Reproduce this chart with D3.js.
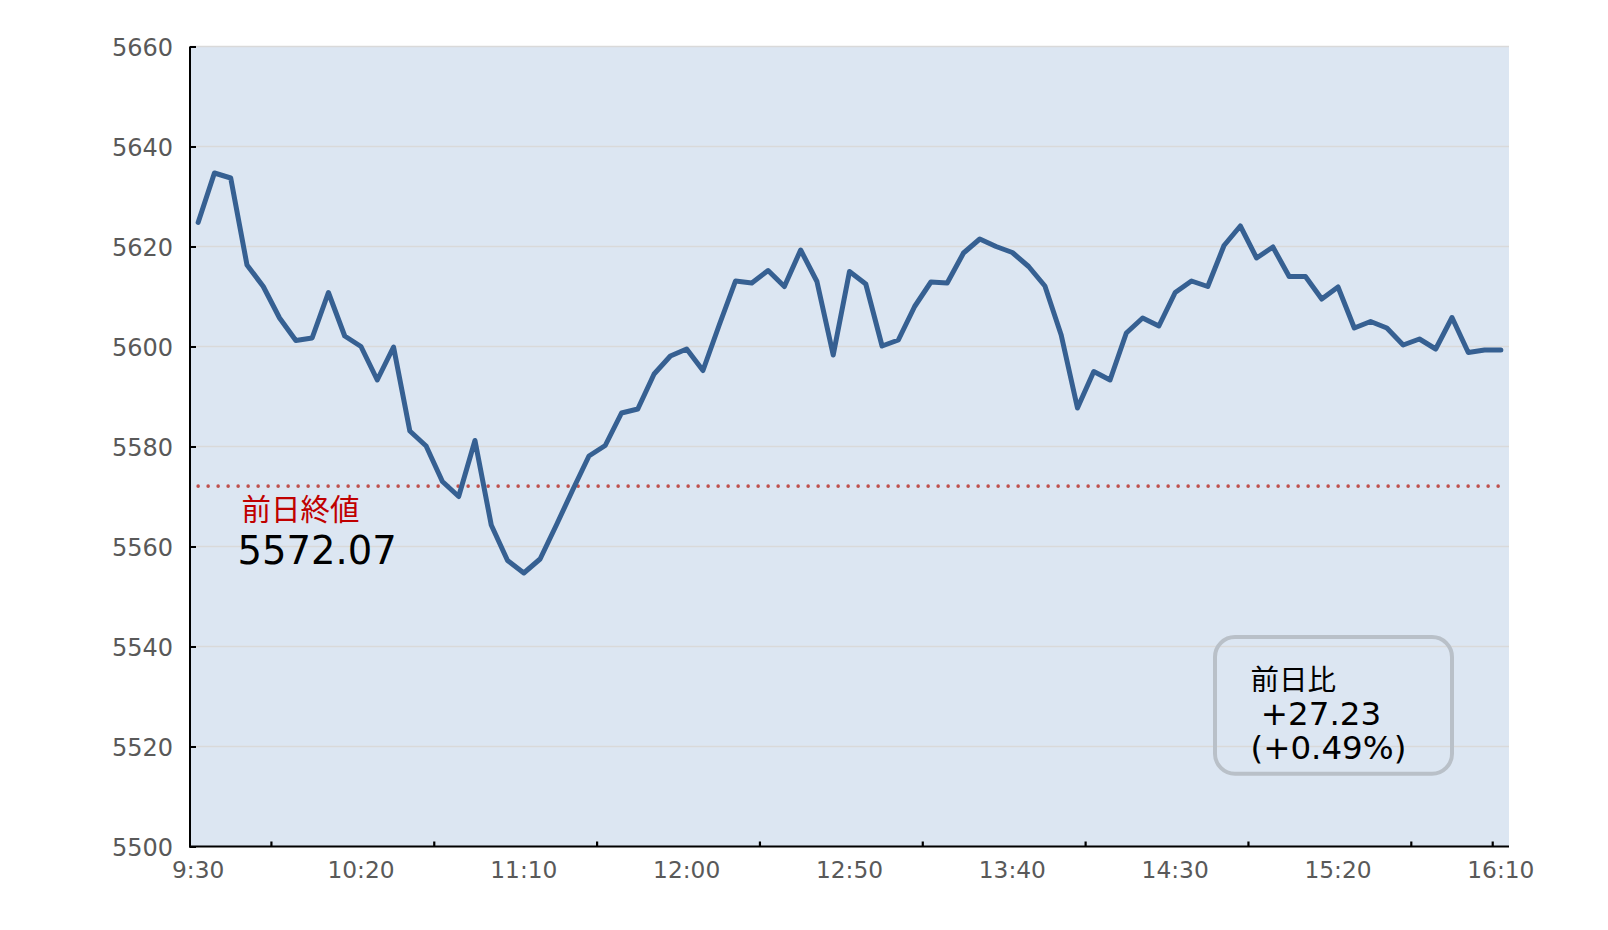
<!DOCTYPE html>
<html>
<head>
<meta charset="utf-8">
<script src="https://cdn.jsdelivr.net/npm/d3@7"></script>
<style>
  html, body { margin: 0; padding: 0; background: #ffffff; }
  svg { display: block; }
  text { font-family: "DejaVu Sans", "Noto Sans CJK JP", sans-serif; }
</style>
</head>
<body>
<svg id="chart" width="1608" height="930"></svg>
<script>
// ---- data ----
const times = [
  "9:30","9:35","9:40","9:45","9:50","9:55","10:00","10:05","10:10","10:15",
  "10:20","10:25","10:30","10:35","10:40","10:45","10:50","10:55","11:00","11:05",
  "11:10","11:15","11:20","11:25","11:30","11:35","11:40","11:45","11:50","11:55",
  "12:00","12:05","12:10","12:15","12:20","12:25","12:30","12:35","12:40","12:45",
  "12:50","12:55","13:00","13:05","13:10","13:15","13:20","13:25","13:30","13:35",
  "13:40","13:45","13:50","13:55","14:00","14:05","14:10","14:15","14:20","14:25",
  "14:30","14:35","14:40","14:45","14:50","14:55","15:00","15:05","15:10","15:15",
  "15:20","15:25","15:30","15:35","15:40","15:45","15:50","15:55","16:00","16:05",
  "16:10"
];
const prices = [
  5624.8,5634.7,5633.7,5616.3,5612.0,5605.7,5601.2,5601.7,5610.8,5602.1,
  5600.0,5593.3,5599.9,5583.1,5580.1,5573.0,5570.0,5581.2,5564.3,5557.2,
  5554.7,5557.5,5564.3,5571.3,5578.1,5580.2,5586.7,5587.5,5594.5,5598.1,
  5599.5,5595.2,5604.3,5613.1,5612.7,5615.2,5612.0,5619.3,5613.0,5598.3,
  5615.0,5612.5,5600.1,5601.3,5608.0,5612.9,5612.7,5618.7,5621.5,5620.0,
  5618.8,5616.0,5612.1,5602.3,5587.7,5595.0,5593.3,5602.7,5605.7,5604.1,
  5610.8,5613.1,5612.0,5620.2,5624.1,5617.7,5619.9,5614.0,5614.0,5609.5,
  5611.9,5603.7,5605.0,5603.7,5600.3,5601.5,5599.5,5605.8,5598.8,5599.3,
  5599.3
];
const prevClose = 5572.07;
const yTicks = [5500,5520,5540,5560,5580,5600,5620,5640,5660];
const xLabelCats = ["9:30","10:20","11:10","12:00","12:50","13:40","14:30","15:20","16:10"];
const xTickCats = ["9:55","10:45","11:35","12:25","13:15","14:05","14:55","15:45","16:10"];
const prevLabel = "前日終値";
const prevValueLabel = "5572.07";
const boxLines = ["前日比", " +27.23", "(+0.49%)"];

// ---- layout ----
const L = 190, R = 1509, T = 46.5, B = 846.5;
const svg = d3.select("#chart");

const x = d3.scaleBand().domain(times).range([L, R]).padding(0);
const cx = d => x(d) + x.bandwidth() / 2;
const y = d3.scaleLinear().domain([5500, 5660]).range([B, T]);

// plot background
svg.append("rect").attr("x", L).attr("y", T).attr("width", R - L).attr("height", B - T)
  .attr("fill", "#dce6f2");

// gridlines
svg.append("g").selectAll("line").data(yTicks.filter(v => v !== 5500)).join("line")
  .attr("x1", L).attr("x2", R)
  .attr("y1", d => y(d)).attr("y2", d => y(d))
  .attr("stroke", "#d9d9d9").attr("stroke-width", 1.6);

// y axis
const yAxis = d3.axisLeft(y).tickValues(yTicks).tickSize(-6).tickPadding(17).tickFormat(d3.format("d"));
const gy = svg.append("g").attr("transform", `translate(${L},0)`).call(yAxis);
gy.select(".domain").remove();
gy.selectAll(".tick line").attr("stroke", "#000").attr("stroke-width", 2);
gy.selectAll(".tick text").attr("fill", "#595959").attr("font-size", 24)
  .attr("font-family", "DejaVu Sans").attr("dy", "0.36em");

// x axis labels
const xAxis = d3.axisBottom(x).tickValues(xLabelCats).tickSize(0).tickPadding(14.8);
const gx = svg.append("g").attr("transform", `translate(0,${B})`).call(xAxis);
gx.select(".domain").remove();
gx.selectAll(".tick text").attr("fill", "#595959").attr("font-size", 23.3)
  .attr("font-family", "DejaVu Sans");

// x tick marks (at category boundaries, pointing up)
svg.append("g").selectAll("line").data(xTickCats).join("line")
  .attr("x1", d => x(d)).attr("x2", d => x(d))
  .attr("y1", B).attr("y2", B - 5)
  .attr("stroke", "#000").attr("stroke-width", 2.2);

// axis lines
svg.append("line").attr("x1", L).attr("x2", L).attr("y1", T).attr("y2", B + 1)
  .attr("stroke", "#000").attr("stroke-width", 2);
svg.append("line").attr("x1", L - 1).attr("x2", R).attr("y1", B).attr("y2", B)
  .attr("stroke", "#000").attr("stroke-width", 2.2);

// previous close dotted line
svg.append("path")
  .datum(times.map(t => ({ t, v: prevClose })))
  .attr("d", d3.line().x(d => cx(d.t)).y(d => y(d.v)))
  .attr("fill", "none").attr("stroke", "#c0504d").attr("stroke-width", 3.6)
  .attr("stroke-linecap", "round").attr("stroke-dasharray", "0 10");

// price line
svg.append("path")
  .datum(times.map((t, i) => ({ t, v: prices[i] })))
  .attr("d", d3.line().x(d => cx(d.t)).y(d => y(d.v)))
  .attr("fill", "none").attr("stroke", "#366092").attr("stroke-width", 5)
  .attr("stroke-linejoin", "round").attr("stroke-linecap", "round");

// previous close labels
svg.append("text").attr("x", 241.5).attr("y", 519.5)
  .attr("font-size", 29.5).attr("fill", "#c00000")
  .attr("font-family", "Noto Sans CJK JP").text(prevLabel);
svg.append("text").attr("x", 237.5).attr("y", 564.3)
  .attr("font-size", 38.5).attr("fill", "#000").text(prevValueLabel);

// change box
svg.append("rect").attr("x", 1215).attr("y", 637).attr("width", 237).attr("height", 136.7)
  .attr("rx", 20).attr("ry", 20)
  .attr("fill", "none").attr("stroke", "#b9c0c8").attr("stroke-width", 4);
const boxY = [689.5, 725, 759.3];
const boxSize = [28.5, 32.5, 32.5];
svg.append("g").selectAll("text").data(boxLines).join("text")
  .attr("x", 1250.5).attr("y", (d, i) => boxY[i])
  .attr("font-size", (d, i) => boxSize[i])
  .attr("fill", "#000")
  .attr("xml:space", "preserve").style("white-space", "pre")
  .text(d => d);
</script>
</body>
</html>
